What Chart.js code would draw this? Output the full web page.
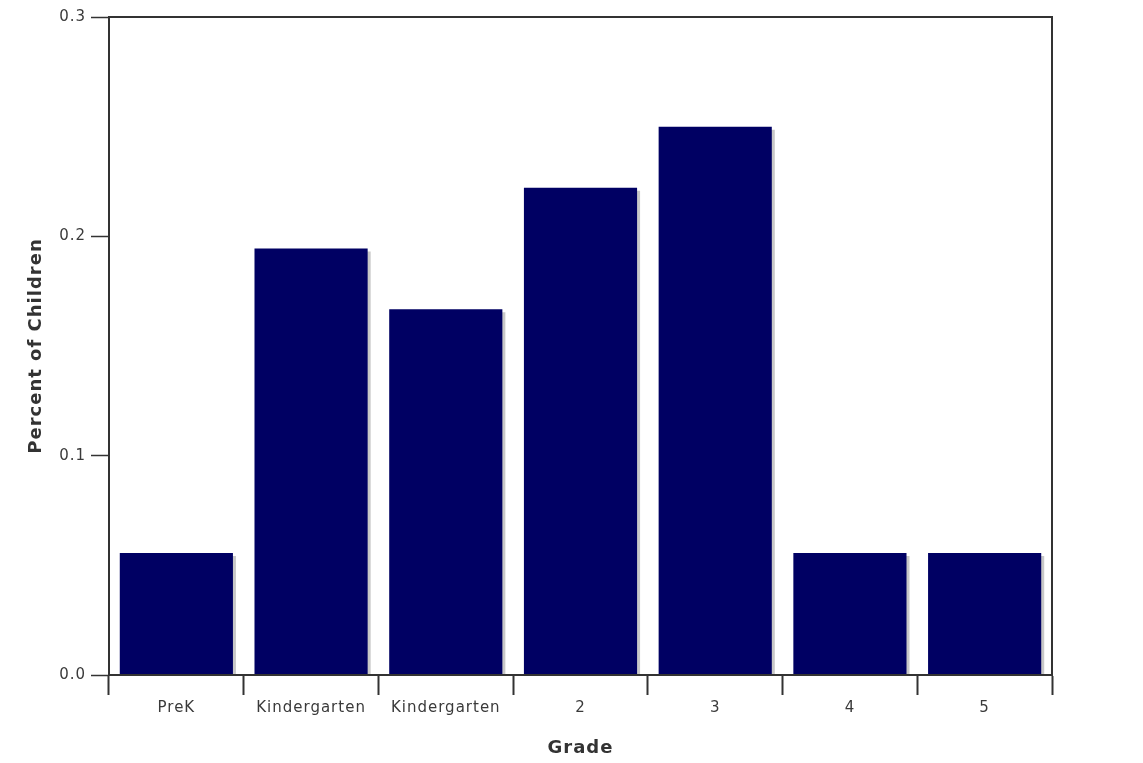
<!DOCTYPE html>
<html>
<head>
<meta charset="utf-8">
<script src="https://cdn.jsdelivr.net/npm/chart.js@4"></script>
<style>
  body { margin:0; background:#fff; }
</style>
</head>
<body>
<canvas id="gradeChart" width="1143" height="763"></canvas>
<script>
// Data
const grades = ['PreK', 'Kindergarten', 'Kindergarten', '2', '3', '4', '5'];
const percentChildren = [0.0556, 0.1944, 0.1667, 0.2222, 0.25, 0.0556, 0.0556];
const yTickValues = [0.0, 0.1, 0.2, 0.3];

// Shadow to the right of each bar + letter spacing for the java-ish text
const barShadow = {
  id: 'barShadow',
  beforeDraw(chart) { chart.ctx.letterSpacing = '1px'; },
  beforeDatasetsDraw(chart) {
    const ctx = chart.ctx;
    ctx.save();
    ctx.shadowColor = '#c8c8c8';
    ctx.shadowOffsetX = 3;
    ctx.shadowOffsetY = 3;
    ctx.shadowBlur = 0;
  },
  afterDatasetsDraw(chart) { chart.ctx.restore(); }
};

// Frame round the plot
const plotFrame = {
  id: 'plotFrame',
  afterDraw(chart) {
    const { ctx, chartArea: a } = chart;
    ctx.save();
    ctx.strokeStyle = '#333';
    ctx.lineWidth = 2;
    ctx.strokeRect(a.left, a.top, a.right - a.left, a.bottom - a.top);
    ctx.restore();
  }
};

new Chart(document.getElementById('gradeChart').getContext('2d'), {
  type: 'bar',
  data: {
    labels: grades,
    datasets: [{
      data: percentChildren,
      backgroundColor: '#000063',
      borderWidth: 0,
      categoryPercentage: 1,
      barPercentage: 0.84
    }]
  },
  options: {
    responsive: false,
    animation: false,
    layout: { padding: { top: 17, right: 91, left: 0, bottom: 0 } },
    plugins: { legend: { display: false }, tooltip: { enabled: false } },
    scales: {
      x: {
        afterFit: s => { s.height = 88; },
        grid: { offset: true, drawOnChartArea: false, tickLength: 20, tickColor: '#333', tickWidth: 2 },
        border: { color: '#333', width: 2 },
        ticks: { color: '#3a3a3a', padding: 4, font: { family: 'DejaVu Sans', size: 15 } },
        title: { display: true, text: 'Grade', color: '#333', padding: { top: 5 },
                 font: { family: 'DejaVu Sans', size: 18, weight: 'bold' } }
      },
      y: {
        min: 0, max: 0.3,
        afterFit: s => { s.width = 109; },
        afterBuildTicks: s => { s.ticks = yTickValues.map(v => ({ value: v })); },
        grid: { drawOnChartArea: false, tickLength: 18, tickColor: '#333', tickWidth: 1.5 },
        border: { color: '#333', width: 2 },
        ticks: { color: '#3a3a3a', padding: 5, font: { family: 'DejaVu Sans', size: 15 },
                 callback: v => v.toFixed(1) },
        title: { display: true, text: 'Percent of Children', color: '#333', padding: { top: 26 },
                 font: { family: 'DejaVu Sans', size: 18, weight: 'bold' } }
      }
    }
  },
  plugins: [barShadow, plotFrame]
});
</script>
</body>
</html>
